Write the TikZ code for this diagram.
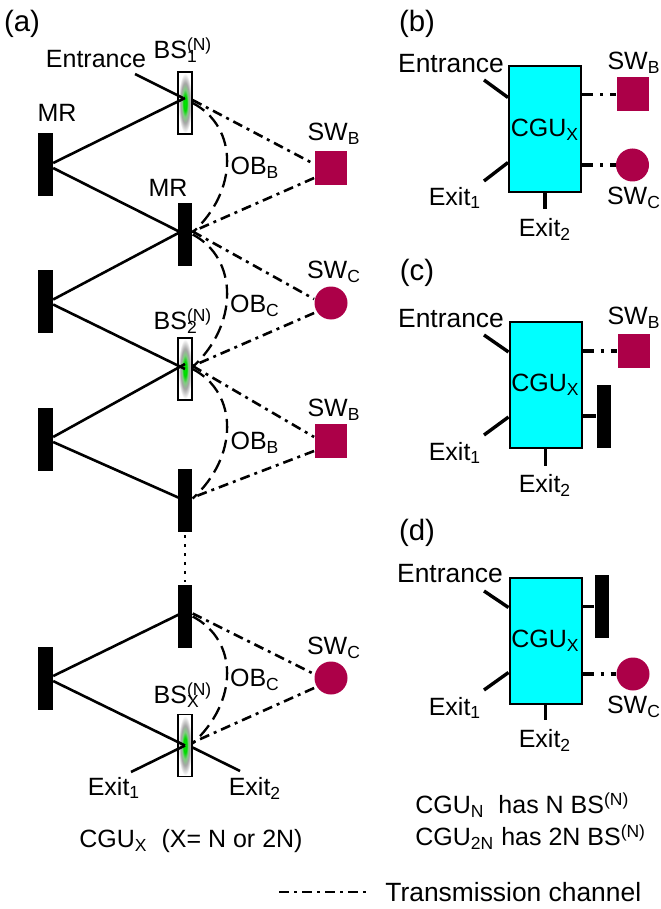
\documentclass[tikz,border=0pt]{standalone}
\usepackage{fontspec}
\setmainfont{Liberation Sans}
\usetikzlibrary{calc}
\definecolor{swred}{RGB}{172,0,72}
\definecolor{cgucyan}{RGB}{0,255,255}
\pgfdeclareradialshading{bsglow}{\pgfpoint{0bp}{0bp}}{color(0bp)=(green!90!black); color(6bp)=(green!85!black); color(11bp)=(black!40!green!50!white); color(16bp)=(black!35); color(24bp)=(white); color(50bp)=(white)}
\newcommand{\Sb}[1]{\textsubscript{#1}}
\newcommand{\BSlab}[1]{BS\rlap{\textsubscript{#1}}\textsuperscript{(N)}}
\tikzset{
  x=0.5pt,y=-0.5pt,
  lab/.style={inner sep=0pt,font=\fontsize{12.5}{14}\selectfont,text=black},
  lab2/.style={inner sep=0pt,font=\fontsize{13.2}{15}\selectfont,text=black},
  biglab/.style={inner sep=0pt,font=\fontsize{14.7}{16}\selectfont,text=black},
  mirror/.style={draw=none,fill=black,minimum width=7.25pt,minimum height=31.5pt,inner sep=0pt},
  bsplit/.style={draw=black,line width=0.6pt,shading=bsglow,minimum width=7pt,minimum height=31pt,inner sep=0pt},
  swsq/.style={fill=swred,minimum width=16pt,minimum height=17pt,inner sep=0pt},
  swci/.style={circle,fill=swred,minimum size=16.5pt,inner sep=0pt},
  cgubox/.style={draw=black,line width=1pt,fill=cgucyan,minimum width=36pt,minimum height=63pt,inner sep=0pt},
  beam/.style={line width=1.3pt},
  stub/.style={line width=1.7pt},
  chan/.style={line width=1.3pt,dash pattern=on 5pt off 2.5pt on 1.5pt off 2.5pt},
  chanb/.style={line width=1.75pt,dash pattern=on 5.5pt off 3.5pt on 1.5pt off 3.5pt},
  obd/.style={line width=1.15pt,dash pattern=on 7pt off 3.5pt},
}
\begin{document}
\begin{tikzpicture}
\useasboundingbox (0,0) rectangle (660,909);
% panel labels
\node[biglab] (la) at (22,24) {(a)};
\node[biglab] (lb) at (417,24) {(b)};
\node[biglab] (lc) at (417,273) {(c)};
\node[biglab] (ld) at (417,533) {(d)};
% left mirrors
\node[mirror] (L1) at (45.5,165) {};
\node[mirror] (L2) at (45.5,301.5) {};
\node[mirror] (L3) at (45.5,439) {};
\node[mirror] (L4) at (45.5,678) {};
% middle column
\node[bsplit] (B1) at (185,103) {};
\node[mirror] (M1) at (185,234.5) {};
\node[bsplit] (B2) at (185,369) {};
\node[mirror] (M2) at (185,500.5) {};
\node[mirror] (M3) at (185,616.5) {};
\node[bsplit] (B3) at (185,745.5) {};
% switches
\node[swsq] (S1) at (330.5,168) {};
\node[swci] (S2) at (331,303) {};
\node[swsq] (S3) at (330.5,441) {};
\node[swci] (S4) at (331,678) {};
% free ends
\coordinate (ent) at (135,74);
\coordinate (ex1) at (131,772);
\coordinate (ex2) at (240,771);
% solid beams
\draw[beam] (ent) -- ($(B1.center)+(-2,-5)$);
\foreach \a/\b/\c in {L1/B1/M1,L2/M1/B2,L3/B2/M2,L4/M3/B3}{
  \draw[beam] (\a.east) ++(0,-2) -- ($(\b.center)+(0,-5)$);
  \draw[beam] (\a.east) ++(0,3) -- ($(\c.center)+(0,0)$);
}
\draw[beam] (ex1) -- (B3.center);
\draw[beam] ($(B3.east)+(0,2)$) -- (ex2);
% channels
\foreach \t/\s/\b in {B1/S1/M1,M1/S2/B2,B2/S3/M2,M3/S4/B3}{
  \draw[chan] ($(\t.east)+(0,-3)$) -- ($(\s.west)+(0,-4)$);
  \draw[chan] ($(\s.west)+(0,10)$) -- ($(\b.east)+(0,-3)$);
  \draw[obd] ($(\t.east)+(0,0)$) .. controls ($(\t.east)+(46,24)$) and ($(\b.east)+(46,-44)$) .. ($(\b.east)+(0,-2)$);
}
\draw[line width=1.4pt,dash pattern=on 1.5pt off 3pt] (M2.south) ++(0,3) -- ($(M3.north)+(0,-3)$);
% labels of (a)
\node[lab] (t1) at (96,59) {Entrance};
\node[lab] (t2) at (183,50) {\BSlab{1}};
\node[lab] (t3) at (57,113) {MR};
\node[lab] (t4) at (168,188) {MR};
\node[lab] (t5) at (255,168) {OB\Sb{B}};
\node[lab] (t6) at (334,134) {SW\Sb{B}};
\node[lab] (t7) at (334,272) {SW\Sb{C}};
\node[lab] (t8) at (255,306) {OB\Sb{C}};
\node[lab] (t9) at (183,321) {\BSlab{2}};
\node[lab] (t10) at (334,410) {SW\Sb{B}};
\node[lab] (t11) at (255,443) {OB\Sb{B}};
\node[lab] (t12) at (334,648) {SW\Sb{C}};
\node[lab] (t13) at (255,680) {OB\Sb{C}};
\node[lab] (t14) at (183,695) {\BSlab{X}};
\node[lab] (t15) at (114,788) {Exit\Sb{1}};
\node[lab] (t16) at (255,788) {Exit\Sb{2}};
\node[lab] (t17) at (191,841) {CGU\Sb{X}\ \ (X= N or 2N)};
% panel (b)
\node[cgubox] (Cb) at (545,129.5) {};
\node[lab] at (Cb.center) (tb) {CGU\Sb{X}};
\node[swsq] (Sb1) at (632.5,94.5) {};
\node[swci] (Sb2) at (632.5,165) {};
\coordinate (be) at (484,80);
\coordinate (bx) at (484,181);
\coordinate (by) at (545,209);
\draw[stub] (be) -- ($(Cb.west)+(0,-32)$);
\draw[stub] (bx) -- ($(Cb.west)+(0,33)$);
\draw[stub] (Cb.south) -- (by);
\draw[chanb] ($(Cb.east)+(0,-35)$) -- (Sb1.west);
\draw[chanb] ($(Cb.east)+(0,35.5)$) -- (Sb2.west);
\node[lab2] at (451,64) (tb1) {Entrance};
\node[lab] at (455,198) (tb2) {Exit\Sb{1}};
\node[lab] at (545,229) (tb3) {Exit\Sb{2}};
\node[lab] at (634,63) (tb4) {SW\Sb{B}};
\node[lab] at (634,198) (tb5) {SW\Sb{C}};
% panel (c)
\node[cgubox] (Cc) at (545.5,385) {};
\node[lab] at (Cc.center) (tc) {CGU\Sb{X}};
\node[swsq] (Sc1) at (633.5,351) {};
\node[mirror] (Mc) at (604,416) {};
\coordinate (ce) at (484,335);
\coordinate (cx) at (484,435);
\coordinate (cy) at (545.5,466);
\draw[stub] (ce) -- ($(Cc.west)+(0,-33)$);
\draw[stub] (cx) -- ($(Cc.west)+(0,32)$);
\draw[stub] (Cc.south) -- (cy);
\draw[chanb] ($(Cc.east)+(0,-34)$) -- (Sc1.west);
\draw[line width=1.6pt] (Cc.east |- Mc) -- (Mc.west);
\node[lab2] at (451,319) (tc1) {Entrance};
\node[lab] at (455,453) (tc2) {Exit\Sb{1}};
\node[lab] at (545,485) (tc3) {Exit\Sb{2}};
\node[lab] at (634,318) (tc4) {SW\Sb{B}};
% panel (d)
\node[cgubox] (Cd) at (545.5,640.5) {};
\node[lab] at (Cd.center) (td) {CGU\Sb{X}};
\node[swci] (Sd1) at (633,674) {};
\node[mirror] (Md) at (602,606.5) {};
\coordinate (de) at (484,591);
\coordinate (dx) at (484,690);
\coordinate (dy) at (545.5,720);
\draw[stub] (de) -- ($(Cd.west)+(0,-33)$);
\draw[stub] (dx) -- ($(Cd.west)+(0,32)$);
\draw[stub] (Cd.south) -- (dy);
\draw[chanb] ($(Cd.east)+(0,33.5)$) -- (Sd1.west);
\draw[line width=1.6pt] (Cd.east |- Md) -- (Md.west);
\node[lab2] at (450,574) (td1) {Entrance};
\node[lab] at (455,708) (td2) {Exit\Sb{1}};
\node[lab] at (545,740) (td3) {Exit\Sb{2}};
\node[lab] at (634,707) (td4) {SW\Sb{C}};
% notes
\node[lab,anchor=west] (n1) at (415,805) {CGU\Sb{N}\ \ has N BS\textsuperscript{(N)}};
\node[lab,anchor=west] (n2) at (415,837) {CGU\Sb{2N} has 2N BS\textsuperscript{(N)}};
% legend
\coordinate (lg1) at (279,892);
\coordinate (lg2) at (368,892);
\draw[chan] (lg1) -- (lg2);
\node[lab2,anchor=west] (lg) at (385,892) {Transmission channel};
\end{tikzpicture}
\end{document}
